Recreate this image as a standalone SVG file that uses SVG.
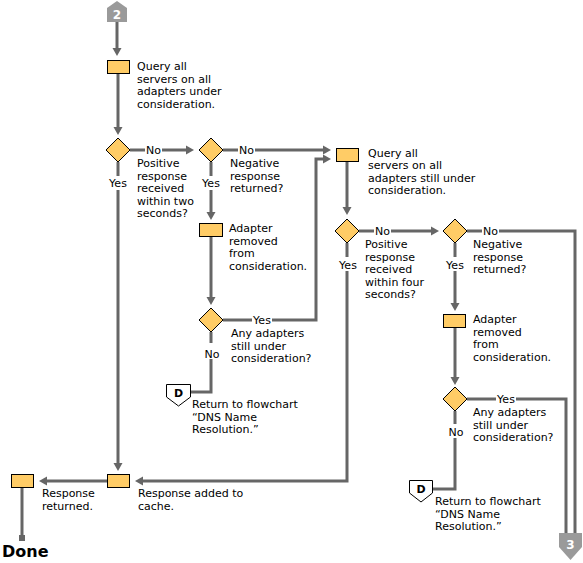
<svg xmlns="http://www.w3.org/2000/svg" width="583" height="563" viewBox="0 0 583 563">
<style>
.t{font-family:"DejaVu Sans","Verdana",sans-serif;font-size:11px;fill:#000}
.m{text-anchor:middle}
.box{fill:#FFCC66;stroke:#000;stroke-width:1}
.ln{fill:none;stroke:#666;stroke-width:3}
.arr{marker-end:url(#ah)}
.off{fill:#9a9a9a}
.offt{font-family:"DejaVu Sans",sans-serif;font-size:12px;font-weight:bold;fill:#fff;text-anchor:middle}
.dc{fill:#fff;stroke:#000;stroke-width:1}
.dct{font-family:"DejaVu Sans",sans-serif;font-size:11px;font-weight:bold;fill:#000;text-anchor:middle}
</style>
<defs>
<marker id="ah" viewBox="0 0 8 10" markerWidth="8" markerHeight="10" refX="3" refY="5" orient="auto" markerUnits="userSpaceOnUse">
<path d="M0,0.5 L8,5 L0,9.5 z" fill="#666"/>
</marker>
</defs>
<rect width="583" height="563" fill="#fff"/>
<g id="connectors">
<path class="ln arr" d="M117,22 V51"/>
<path class="ln arr" d="M118,73 V130"/>
<path class="ln arr" d="M130,150 H145 M162,150 H189"/>
<path class="ln arr" d="M223,150 H238 M255,150 H326"/>
<path class="ln arr" d="M211,162 V176 M211,190 V215"/>
<path class="ln arr" d="M211,237 V300"/>
<path class="ln arr" d="M223,320 H252 M272,320 H316 V159 H326"/>
<path class="ln" d="M211,332 V343 M211,359 V392 H190"/>
<path class="ln arr" d="M347,162 V210"/>
<path class="ln arr" d="M359,231 H374 M391,231 H434"/>
<path class="ln" d="M467,231 H482 M499,231 H575 V536"/>
<path class="ln arr" d="M455,243 V257 M455,271 V306"/>
<path class="ln arr" d="M455,327 V380"/>
<path class="ln" d="M467,399 H496 M516,399 H566 V536"/>
<path class="ln" d="M455,411 V424 M455,438 V489 H432"/>
<path class="ln arr" d="M347,243 V257 M347,271 V481 H140"/>
<path class="ln arr" d="M118,162 V176 M118,190 V466"/>
<path class="ln arr" d="M107,481 H44"/>
<path class="ln" d="M22,488 V537"/>
<rect x="19" y="535" width="6" height="6" fill="#666"/>
<text class="t m" x="153.5" y="154">No</text>
<text class="t m" x="246.5" y="154">No</text>
<text class="t m" x="211" y="187">Yes</text>
<text class="t m" x="118" y="187">Yes</text>
<text class="t m" x="262" y="324">Yes</text>
<text class="t m" x="212" y="358">No</text>
<text class="t m" x="382.5" y="235">No</text>
<text class="t m" x="490.5" y="235">No</text>
<text class="t m" x="348" y="269">Yes</text>
<text class="t m" x="455" y="269">Yes</text>
<text class="t m" x="506" y="403">Yes</text>
<text class="t m" x="456" y="436">No</text>
</g>
<g id="start2">
<path class="off" d="M107,22 V8 L117,1 L127,8 V22 z"/>
<text class="offt" x="117" y="19">2</text>
</g>
<g id="query1">
<rect class="box" x="107.5" y="60.5" width="22" height="13"/>
<text class="t" x="137" y="70">Query all</text>
<text class="t" x="137" y="82.5">servers on all</text>
<text class="t" x="137" y="95">adapters under</text>
<text class="t" x="137" y="107.5">consideration.</text>
</g>
<g id="dec1">
<path class="box" d="M118,138 L130,150 L118,162 L106,150 z"/>
<text class="t" x="137" y="167">Positive</text>
<text class="t" x="137" y="179.5">response</text>
<text class="t" x="137" y="192">received</text>
<text class="t" x="137" y="204.5">within two</text>
<text class="t" x="137" y="217">seconds?</text>
</g>
<g id="dec2">
<path class="box" d="M211,138 L223,150 L211,162 L199,150 z"/>
<text class="t" x="230" y="167">Negative</text>
<text class="t" x="230" y="179.5">response</text>
<text class="t" x="230" y="192">returned?</text>
</g>
<g id="remove1">
<rect class="box" x="199.5" y="223.5" width="23" height="13"/>
<text class="t" x="229" y="232">Adapter</text>
<text class="t" x="229" y="244.5">removed</text>
<text class="t" x="229" y="257">from</text>
<text class="t" x="229" y="269.5">consideration.</text>
</g>
<g id="dec3">
<path class="box" d="M211,308 L223,320 L211,332 L199,320 z"/>
<text class="t" x="231" y="337">Any adapters</text>
<text class="t" x="231" y="349.5">still under</text>
<text class="t" x="231" y="362">consideration?</text>
</g>
<g id="returnD1">
<path class="dc" d="M166.5,384.5 H190.5 V397 L178.5,406 L166.5,397 z"/>
<text class="dct" x="178.5" y="397">D</text>
<text class="t" x="192" y="408">Return to flowchart</text>
<text class="t" x="192" y="420.5">“DNS Name</text>
<text class="t" x="192" y="433">Resolution.”</text>
</g>
<g id="query2">
<rect class="box" x="336.5" y="148.5" width="22" height="13"/>
<text class="t" x="368" y="156.5">Query all</text>
<text class="t" x="368" y="169">servers on all</text>
<text class="t" x="368" y="181.5">adapters still under</text>
<text class="t" x="368" y="194">consideration.</text>
</g>
<g id="dec4">
<path class="box" d="M347,219 L359,231 L347,243 L335,231 z"/>
<text class="t" x="365" y="248">Positive</text>
<text class="t" x="365" y="260.5">response</text>
<text class="t" x="365" y="273">received</text>
<text class="t" x="365" y="285.5">within four</text>
<text class="t" x="365" y="298">seconds?</text>
</g>
<g id="dec5">
<path class="box" d="M455,219 L467,231 L455,243 L443,231 z"/>
<text class="t" x="473" y="248">Negative</text>
<text class="t" x="473" y="260.5">response</text>
<text class="t" x="473" y="273">returned?</text>
</g>
<g id="remove2">
<rect class="box" x="443.5" y="314.5" width="22" height="13"/>
<text class="t" x="473" y="323">Adapter</text>
<text class="t" x="473" y="335.5">removed</text>
<text class="t" x="473" y="348">from</text>
<text class="t" x="473" y="360.5">consideration.</text>
</g>
<g id="dec6">
<path class="box" d="M455,387 L467,399 L455,411 L443,399 z"/>
<text class="t" x="473" y="416">Any adapters</text>
<text class="t" x="473" y="428.5">still under</text>
<text class="t" x="473" y="441">consideration?</text>
</g>
<g id="returnD2">
<path class="dc" d="M409.5,480.5 H432.5 V493 L421,502 L409.5,493 z"/>
<text class="dct" x="421" y="493">D</text>
<text class="t" x="435" y="505">Return to flowchart</text>
<text class="t" x="435" y="517.5">“DNS Name</text>
<text class="t" x="435" y="530">Resolution.”</text>
</g>
<g id="next3">
<path class="off" d="M559,533 H582 V547 L570.5,560 L559,547 z"/>
<text class="offt" x="570.5" y="549">3</text>
</g>
<g id="addcache">
<rect class="box" x="107.5" y="474.5" width="22" height="13"/>
<text class="t" x="138" y="497">Response added to</text>
<text class="t" x="138" y="509.5">cache.</text>
</g>
<g id="returned">
<rect class="box" x="11.5" y="474.5" width="22" height="13"/>
<text class="t" x="42" y="497">Response</text>
<text class="t" x="42" y="509.5">returned.</text>
</g>
<g id="done">
<text x="2" y="557" style="font-family:'DejaVu Sans',sans-serif;font-size:16px;font-weight:bold;fill:#000">Done</text>
</g>
</svg>
